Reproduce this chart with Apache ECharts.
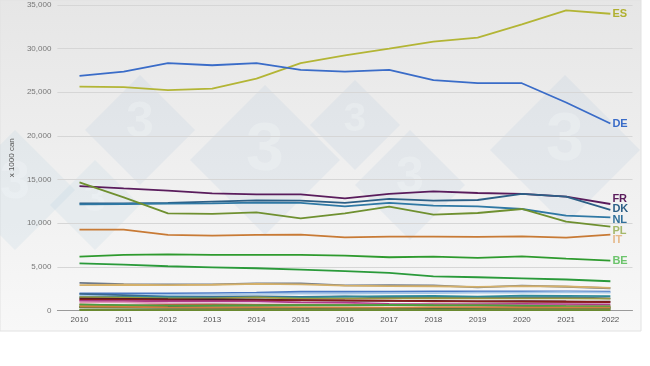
<!DOCTYPE html>
<html><head><meta charset="utf-8">
<script src="https://cdn.jsdelivr.net/npm/echarts@6/dist/echarts.min.js"></script>
<style>html,body{margin:0;padding:0;background:#fff}#c{width:650px;height:366px}</style>
</head><body><div id="c"></div>
<script>
const years = ['2010','2011','2012','2013','2014','2015','2016','2017','2018','2019','2020','2021','2022'];
const yTicks = [0,5000,10000,15000,20000,25000,30000,35000];
const yName = 'x 1000 can';

const ES = [25650,25590,25240,25430,26570,28330,29220,30000,30800,31260,32790,34390,34000];
const DE = [26880,27370,28330,28100,28330,27570,27370,27570,26390,26040,26040,23830,21420];
const FR = [14260,13990,13730,13420,13300,13300,12850,13350,13650,13460,13350,13040,12200];
const DK = [12270,12270,12320,12470,12620,12590,12320,12780,12590,12660,13350,13040,11520];
const NL = [12160,12200,12240,12270,12350,12320,11930,12320,12010,11930,11630,10870,10670];
const PL = [14680,12960,11130,11060,11240,10560,11130,11900,10980,11170,11630,10180,9610];
const IT = [9260,9260,8660,8580,8660,8690,8380,8460,8460,8430,8500,8350,8690];
const BE = [6180,6370,6440,6370,6380,6380,6290,6100,6180,6030,6210,5950,5720];
const RO = [5410,5260,5070,4950,4840,4690,4500,4310,3920,3810,3690,3550,3350];
const HU = [3170,3030,2990,3000,3100,3100,2870,2900,2870,2650,2850,2720,2550];
const AT = [2900,2950,2900,2950,3050,3000,2850,2800,2780,2700,2800,2750,2600];
const PT = [1950,1950,1950,2000,2050,2150,2150,2150,2200,2200,2200,2200,2150];
const LB = [1750,1800,1800,1850,1900,1950,1950,2000,2000,2050,2050,2100,2050];
const CZ = [1900,1750,1580,1590,1620,1560,1610,1490,1560,1540,1500,1520,1400];
const IE = [1520,1550,1530,1470,1500,1500,1580,1640,1660,1600,1700,1680,1650];
const SE = [1520,1480,1390,1400,1500,1360,1360,1400,1420,1380,1400,1400,1360];
const FI = [1360,1340,1290,1280,1250,1200,1120,1110,1100,1050,1060,1030,1020];
const HR = [1230,1240,1180,1110,1150,1170,1160,1120,1050,1040,1020,1000,950];
const GR = [1100,1060,1070,1060,1050,920,890,760,740,740,750,740,700];
const LT = [930,920,800,750,700,710,690,650,600,560,580,560,500];
const SK = [690,580,630,660,640,630,600,610,610,600,520,480,460];
const BG = [660,610,530,550,580,600,610,640,600,590,560,500,460];
const SI = [400,350,290,280,270,260,250,260,230,220,220,210,200];
const LV = [390,370,360,350,350,330,320,310,320,310,300,320,300];
const EE = [370,360,370,360,360,300,260,270,270,300,320,310,290];
const CY = [460,410,360,340,350,360,340,340,350,350,330,330,320];
const LU = [90,90,90,95,95,95,90,85,80,80,75,75,70];
const MT = [60,50,45,40,40,40,40,40,40,40,40,40,35];

const labelled = [
  ['ES', ES, '#b3b535', '#b0b030', 0],
  ['DE', DE, '#3a6cc8', '#3a6cc8', 0],
  ['FR', FR, '#5a1c5c', '#5a1c5c', -5],
  ['DK', DK, '#2c5f86', '#2c5f86', -1],
  ['NL', NL, '#2f78a4', '#2f6f9a', 3],
  ['PL', PL, '#6f9030', '#a4b86a', 4],
  ['IT', IT, '#c87a35', '#e6b98a', 5],
  ['BE', BE, '#2e9a2e', '#6cc46c', 0]
];
const others = [
  ['RO', RO, '#2a9a3a'], ['HU', HU, '#707a88'], ['AT', AT, '#d4b06a'],
  ['PT', PT, '#4a78c4'], ['LB', LB, '#a8c8e8'], ['CZ', CZ, '#3a6890'],
  ['IE', IE, '#2e8a9a'], ['SE', SE, '#9a9a40'], ['FI', FI, '#4a1a2a'],
  ['HR', HR, '#8a1a1a'], ['GR', GR, '#b03a8a'], ['LT', LT, '#e098b8'],
  ['SK', SK, '#a07040'], ['BG', BG, '#4aa040'], ['SI', SI, '#555555'],
  ['LV', LV, '#7ac050'], ['EE', EE, '#2a6a3a'], ['CY', CY, '#d08040'],
  ['LU', LU, '#8a8a5a'], ['MT', MT, '#6a8a30']
];

const series = [];
others.forEach(o => series.push({
  name: o[0], type: 'line', data: o[1], symbol: 'none', z: 2,
  lineStyle: { width: 1.8, color: o[2] }, itemStyle: { color: o[2] }
}));
labelled.forEach(o => series.push({
  name: o[0], type: 'line', data: o[1], symbol: 'none', z: 3,
  lineStyle: { width: 1.8, color: o[2] }, itemStyle: { color: o[2] },
  endLabel: { show: true, formatter: o[0], color: o[3], fontWeight: 'bold',
    fontSize: 11, fontFamily: 'Liberation Sans, Arial', distance: 2, offset: [0, o[4]] }
}));

function wm(cx, cy, r, op) {
  return [
    { type: 'polygon', z: -50, silent: true,
      shape: { points: [[cx, cy - r], [cx + r, cy], [cx, cy + r], [cx - r, cy]] },
      style: { fill: 'rgba(165,195,220,' + op + ')' } },
    { type: 'text', z: -49, silent: true, x: cx, y: cy - r * 0.12,
      style: { text: '3', fill: 'rgba(245,247,250,' + (op + 0.15) + ')', font: 'bold ' + Math.round(r * 0.9) + 'px Liberation Sans, Arial',
        align: 'center', verticalAlign: 'middle' } }
  ];
}
const graphic = [
  { type: 'rect', z: -100, silent: true, shape: { x: 0, y: 0, width: 641, height: 331 },
    style: { fill: new echarts.graphic.LinearGradient(0, 0, 0, 1, [
      { offset: 0, color: '#e6e6e6' }, { offset: 0.5, color: '#efefef' }, { offset: 1, color: '#f8f8f8' }]),
      stroke: '#e2e2e2', lineWidth: 1 } }
].concat(wm(140, 130, 55, 0.16), wm(265, 160, 75, 0.16), wm(355, 125, 45, 0.16),
         wm(410, 185, 55, 0.16), wm(565, 150, 75, 0.16), wm(15, 190, 60, 0.14), wm(95, 205, 45, 0.14));

const chart = echarts.init(document.getElementById('c'), null, { renderer: 'canvas' });
chart.setOption({
  animation: false,
  backgroundColor: '#ffffff',
  graphic: graphic,
  grid: { left: 48.5, right: 17.5, top: 5, bottom: 55.5, containLabel: false },
  xAxis: {
    type: 'category', data: years, boundaryGap: true,
    axisLine: { lineStyle: { color: '#9a9a9a' } },
    axisTick: { show: false },
    axisLabel: { color: '#555', fontSize: 8, fontFamily: 'Liberation Sans, Arial', margin: 5 }
  },
  yAxis: {
    type: 'value', min: yTicks[0], max: yTicks[yTicks.length - 1], interval: 5000,
    name: yName, nameLocation: 'middle', nameGap: 35, nameRotate: 90,
    nameTextStyle: { color: '#555', fontSize: 8, fontFamily: 'Liberation Sans, Arial' },
    axisLine: { show: false }, axisTick: { show: false },
    axisLabel: { color: '#777', fontSize: 8, fontFamily: 'Liberation Sans, Arial', margin: 6,
      formatter: v => v.toLocaleString('en-US') },
    splitLine: { lineStyle: { color: '#d6d6d6', width: 1 } }
  },
  series: series
});
</script></body></html>
